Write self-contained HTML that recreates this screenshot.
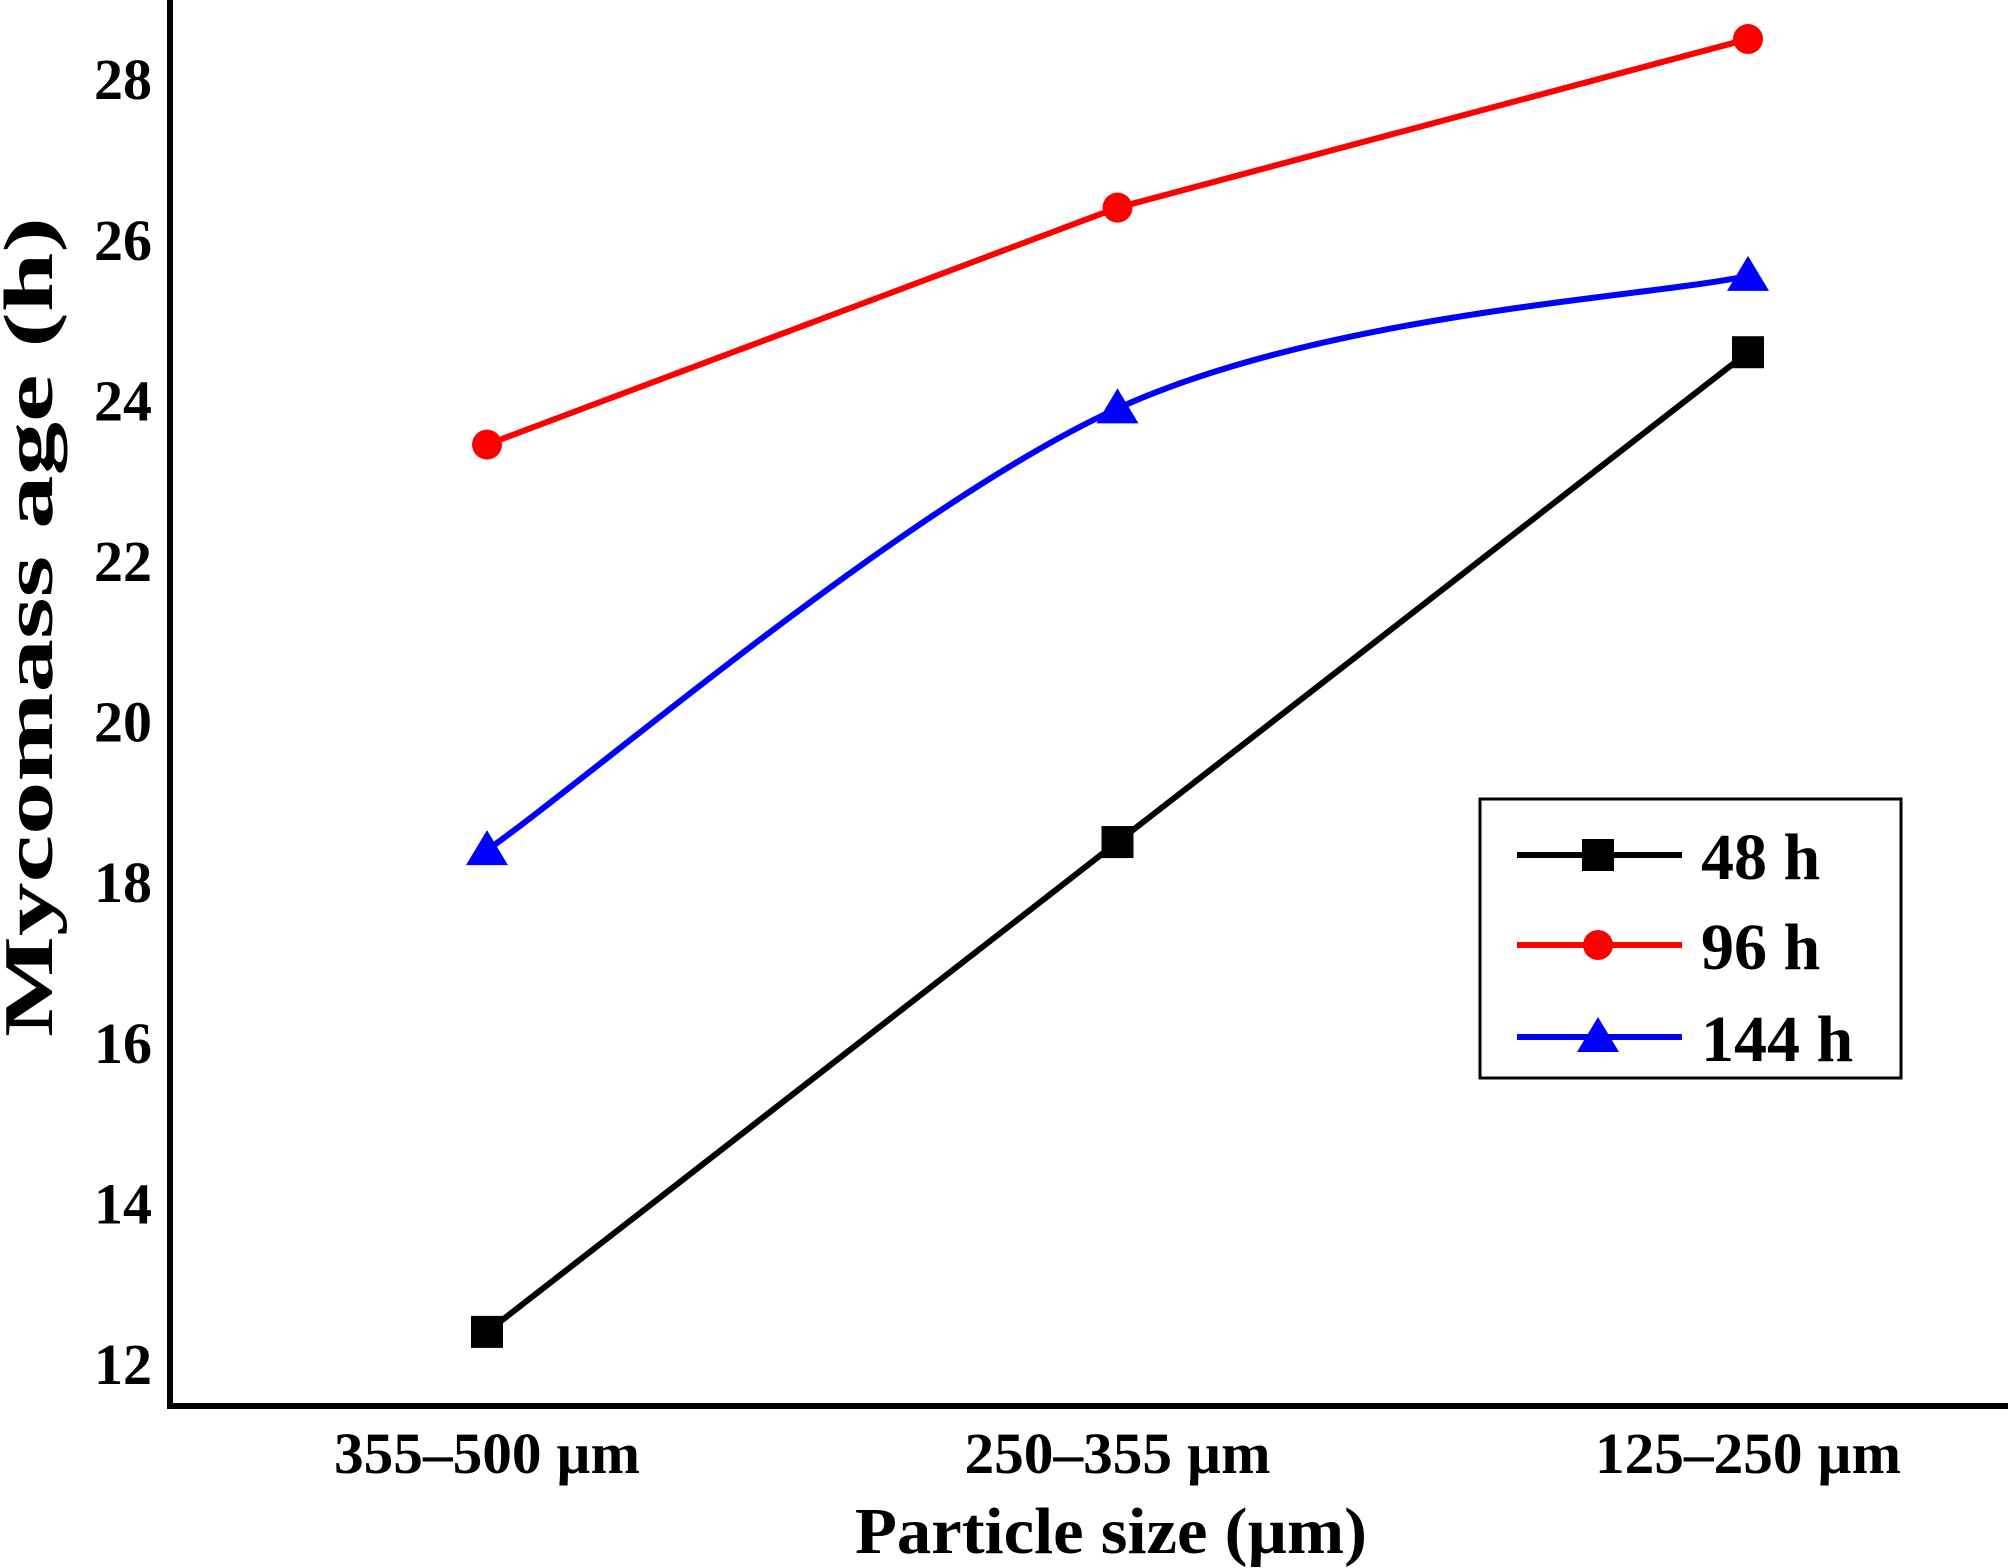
<!DOCTYPE html>
<html><head><meta charset="utf-8"><style>
html,body{margin:0;padding:0;background:#fff;}
svg{display:block;font-family:"Liberation Serif",serif;font-weight:bold;}
</style></head><body>
<svg id="chart" width="2008" height="1568" viewBox="0 0 2008 1568">
<g id="axes"></g>
<g id="series"></g>
<g id="legend"></g>
</svg>
<script>
const categories = ["355–500 µm","250–355 µm","125–250 µm"];
const s48 = [12.4, 18.5, 24.6];
const s96 = [23.45, 26.4, 28.5];
const s144 = [18.4, 23.9, 25.55];
const yTicks = [12,14,16,18,20,22,24,26,28];
const seriesNames = ["48 h","96 h","144 h"];

const NS="http://www.w3.org/2000/svg";
function mk(tag,parent,attrs){const e=document.createElementNS(NS,tag);for(const k in attrs)e.setAttribute(k,attrs[k]);parent.appendChild(e);return e;}
const X0=170, Y0=1406;
function xs(i){return 487+i*630.5;}
function ys(v){return 1364-(v-12)*80.3;}

const axes=document.getElementById('axes');
let e=mk('line',axes,{x1:X0,y1:0,x2:X0,y2:Y0+3,stroke:'#000','stroke-width':6});


e=mk('line',axes,{x1:X0-3,y1:Y0,x2:2008,y2:Y0,stroke:'#000','stroke-width':6});


yTicks.forEach(t=>{
  const tx=mk('text',axes,{x:152,y:ys(t)+20,'text-anchor':'end','font-size':58,textLength:58,lengthAdjust:'spacingAndGlyphs'});
  tx.textContent=t;
  
  
});
categories.forEach((c,i)=>{
  const tx=mk('text',axes,{x:xs(i),y:1473,'text-anchor':'middle','font-size':58,textLength:306,lengthAdjust:'spacingAndGlyphs'});
  tx.textContent=c;
  
  
});
e=mk('text',axes,{x:1111,y:1553,'text-anchor':'middle','font-size':66,textLength:512,lengthAdjust:'spacingAndGlyphs'});
e.textContent="Particle size (µm)";


e=mk('text',axes,{x:0,y:0,'text-anchor':'middle','font-size':70,textLength:820,lengthAdjust:'spacingAndGlyphs',transform:'translate(52,627) rotate(-90)'});
e.textContent="Mycomass age (h)";



function smooth(pts){
  let d=`M${pts[0][0]},${pts[0][1]}`;
  for(let i=0;i<pts.length-1;i++){
    const p0=pts[i-1]||pts[i],p1=pts[i],p2=pts[i+1],p3=pts[i+2]||p2;
    const c1=[p1[0]+(p2[0]-p0[0])/6,p1[1]+(p2[1]-p0[1])/6];
    const c2=[p2[0]-(p3[0]-p1[0])/6,p2[1]-(p3[1]-p1[1])/6];
    d+=` C${c1[0]},${c1[1]} ${c2[0]},${c2[1]} ${p2[0]},${p2[1]}`;
  }
  return d;
}
function straight(pts){return 'M'+pts.map(p=>p[0]+','+p[1]).join(' L');}
function marker(g,type,x,y,color){
  let m;
  if(type==='square') m=mk('rect',g,{x:x-16,y:y-16,width:32,height:32,fill:color});
  else if(type==='circle') m=mk('circle',g,{cx:x,cy:y,r:15,fill:color});
  else m=mk('polygon',g,{points:`${x},${y-20} ${x+21},${y+15} ${x-21},${y+15}`,fill:color});
  return m;
}
const defs=[[s48,'#000','square','series-48h',false],[s96,'#f00','circle','series-96h',false],[s144,'#00f','triangle','series-144h',true]];
const sg=document.getElementById('series');
defs.forEach(([vals,color,type,name,sm])=>{
  const g=mk('g',sg,{});
  
  
  const pts=vals.map((v,i)=>[xs(i),ys(v)]);
  const p=mk('path',g,{d:sm?smooth(pts):straight(pts),fill:'none',stroke:color,'stroke-width':6,'stroke-linejoin':'round'});
  
  
  pts.forEach(pt=>{
    const m=marker(g,type,pt[0],pt[1],color);
    
    
  });
});
const lg=document.getElementById('legend');
e=mk('rect',lg,{x:1480,y:799,width:421,height:279,fill:'#fff',stroke:'#000','stroke-width':3});


const ly=[855,945,1037];
defs.forEach(([vals,color,type],i)=>{
  const g=mk('g',lg,{});
  
  
  mk('line',g,{x1:1517,y1:ly[i],x2:1682,y2:ly[i],stroke:color,'stroke-width':6});
  marker(g,type,1598,ly[i],color);
  const t=mk('text',g,{x:1701,y:ly[i]+24,'font-size':66});
  t.textContent=seriesNames[i];
});
</script>
</body></html>
